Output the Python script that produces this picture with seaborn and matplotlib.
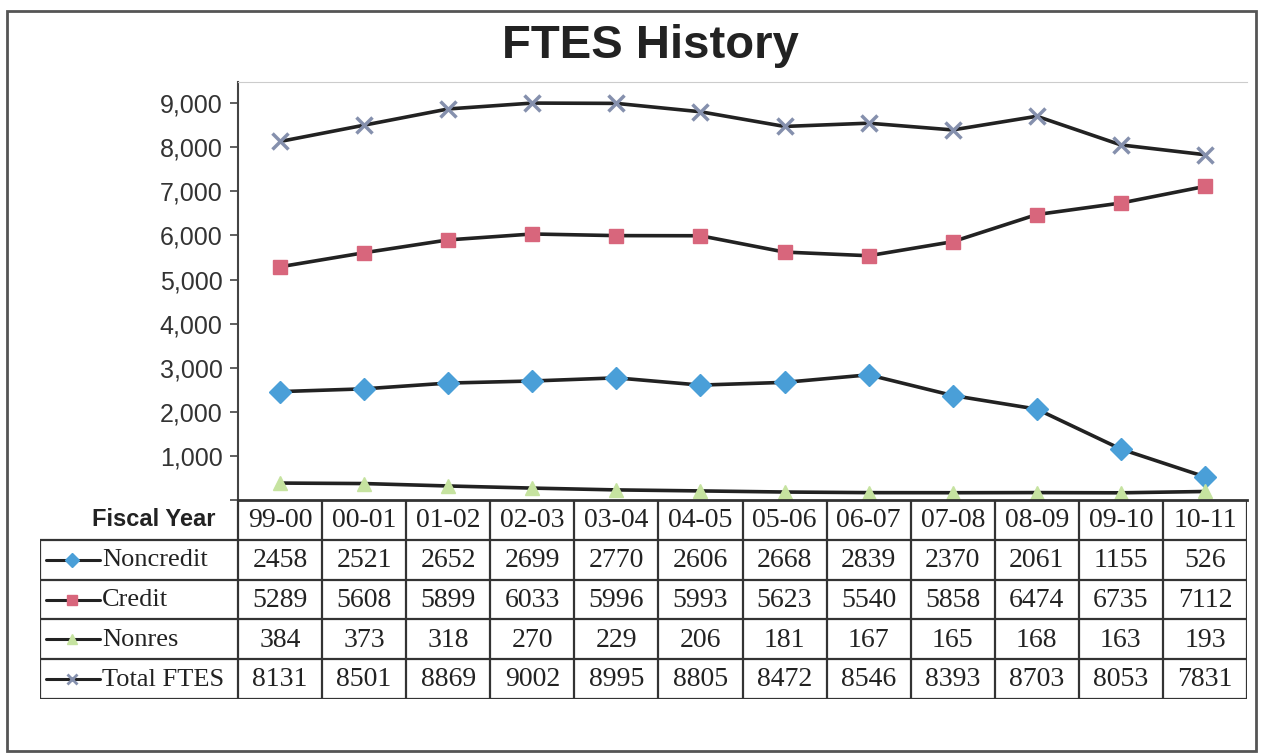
import matplotlib
matplotlib.use("Agg")
import matplotlib.pyplot as plt
import seaborn as sns
import pandas as pd
from matplotlib.ticker import FuncFormatter
from matplotlib.patches import Rectangle

years = ["99-00", "00-01", "01-02", "02-03", "03-04", "04-05",
         "05-06", "06-07", "07-08", "08-09", "09-10", "10-11"]
noncredit = [2458, 2521, 2652, 2699, 2770, 2606, 2668, 2839, 2370, 2061, 1155, 526]
credit = [5289, 5608, 5899, 6033, 5996, 5993, 5623, 5540, 5858, 6474, 6735, 7112]
nonres = [384, 373, 318, 270, 229, 206, 181, 167, 165, 168, 163, 193]
total_ftes = [8131, 8501, 8869, 9002, 8995, 8805, 8472, 8546, 8393, 8703, 8053, 7831]

series_names = ["Noncredit", "Credit", "Nonres", "Total FTES"]
series_values = [noncredit, credit, nonres, total_ftes]
markers = ["D", "s", "^", "x"]
marker_colors = ["#4a9fd8", "#d8667c", "#c6e3a0", "#8590ad"]
marker_sizes = [11, 10, 10, 11]

sns.set_style("white")
plt.rcParams["font.family"] = ["Liberation Sans", "DejaVu Sans"]

W, H = 1261, 755
fig = plt.figure(figsize=(W / 100, H / 100), dpi=100)


def px_axes(x0, y0, x1, y1):
    return fig.add_axes([x0 / W, 1 - y1 / H, (x1 - x0) / W, (y1 - y0) / H])


# outer frame
fig.patches.append(Rectangle((7 / W, 1 - 751 / H), 1249 / W, 740 / H,
                             transform=fig.transFigure, fill=False,
                             edgecolor="#555555", linewidth=2))

fig.text(650 / W, 1 - 46 / H, "FTES History", ha="center", va="center",
         fontsize=34, fontweight="bold", color="#222222")

# ---- chart ----
ax = px_axes(238, 82, 1247, 500)
df = pd.DataFrame({"pos": range(len(years))})
for name, vals, m, c, ms in zip(series_names, series_values, markers, marker_colors, marker_sizes):
    df[name] = vals
    sns.lineplot(data=df, x="pos", y=name, ax=ax, color="#222222", linewidth=2.6,
                 marker=m, markersize=ms, markerfacecolor=c, markeredgecolor=c,
                 markeredgewidth=2.5 if m == "x" else 1)

ax.set_xlim(-0.5, len(years) - 0.5)
ax.set_ylim(0, 9480)
ax.set_yticks(range(0, 10000, 1000))
ax.yaxis.set_major_formatter(FuncFormatter(lambda v, _: "" if v == 0 else f"{int(v):,}"))
ax.set_xticks([])
ax.set_xlabel("")
ax.set_ylabel("")
ax.tick_params(axis="y", direction="out", length=6, width=1.2, color="#444444",
               labelsize=18, labelcolor="#333333", pad=5, left=True)
ax.spines["right"].set_visible(False)
ax.spines["top"].set_color("#cccccc")
ax.spines["left"].set_color("#444444")
ax.spines["left"].set_linewidth(1.5)
ax.spines["bottom"].set_color("#333333")
ax.spines["bottom"].set_linewidth(2)

# ---- data table ----
tab = px_axes(40, 500, 1247, 699)
colw = (1247 - 238) / len(years)
left_edge = -0.5 - (238 - 40) / colw
tab.set_xlim(left_edge, len(years) - 0.5)
tab.set_ylim(5, 0)
tab.axis("off")


def px2x(px):
    return -0.5 + (px - 238) / colw


line_kw = dict(color="#333333", linewidth=1.6, solid_capstyle="butt")
for r in range(1, 6):
    tab.plot([left_edge, len(years) - 0.5], [r, r], **line_kw)
tab.plot([left_edge, left_edge], [1, 5], **line_kw)
for i in range(len(years) + 1):
    tab.plot([i - 0.5, i - 0.5], [0, 5], **line_kw)

serif = ["Liberation Serif", "DejaVu Serif"]
tab.text(px2x(216), 0.5, "Fiscal Year", ha="right", va="center",
         fontsize=17, fontweight="bold", color="#222222")
for i, y in enumerate(years):
    tab.text(i, 0.52, y, ha="center", va="center", fontsize=20,
             family=serif, color="#222222")

for r, (name, vals, m, c) in enumerate(zip(series_names, series_values, markers, marker_colors), start=1):
    yc = r + 0.5
    tab.plot([px2x(46), px2x(100)], [yc, yc], color="#222222", linewidth=2.2)
    tab.plot([px2x(72)], [yc], marker=m, markersize=7, color=c,
             markeredgewidth=2 if m == "x" else 1)
    tab.text(px2x(102), yc + 0.02, name, ha="left", va="center", fontsize=19,
             family=serif, color="#222222")
    for i, v in enumerate(vals):
        tab.text(i, yc + 0.02, str(v), ha="center", va="center", fontsize=20,
                 family=serif, color="#222222")

fig.savefig("out.png", dpi=100)
